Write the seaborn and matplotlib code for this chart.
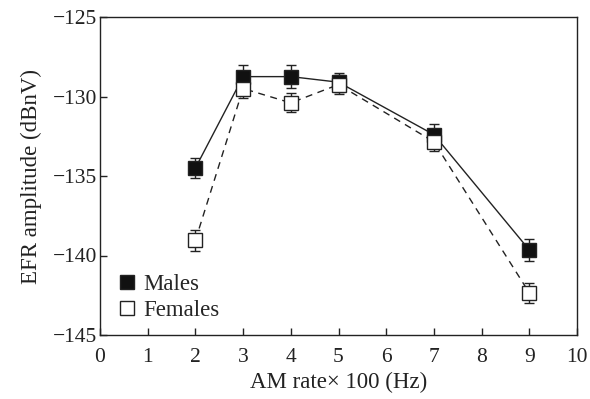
import matplotlib
matplotlib.use("Agg")
import matplotlib.pyplot as plt
from matplotlib.lines import Line2D
import seaborn as sns
import pandas as pd

am_rate = [2, 3, 4, 5, 7, 9]
males = [-134.5, -128.75, -128.75, -129.1, -132.4, -139.65]
males_err = [0.65, 0.75, 0.7, 0.6, 0.65, 0.7]
females = [-139.05, -129.5, -130.4, -129.25, -132.85, -142.35]
females_err = [0.65, 0.6, 0.6, 0.6, 0.6, 0.65]

df = pd.DataFrame({
    "rate": am_rate * 2,
    "amp": males + females,
    "group": ["Males"] * len(am_rate) + ["Females"] * len(am_rate),
})

sns.set_style("ticks")
plt.rcParams["font.family"] = ["Liberation Serif", "DejaVu Serif"]

fs = 15.5
lfs = 16.5
ink = "#222222"

fig = plt.figure(figsize=(5.9, 3.99), dpi=100)
ax = fig.add_axes([100 / 590, 1 - 335 / 399, 477 / 590, 318 / 399])

ax.errorbar(am_rate, males, yerr=males_err, fmt="none", ecolor=ink,
            elinewidth=1.0, capsize=3.5, capthick=1.0, zorder=2)
ax.errorbar(am_rate, females, yerr=females_err, fmt="none", ecolor=ink,
            elinewidth=1.0, capsize=3.5, capthick=1.0, zorder=2)

sns.lineplot(data=df[df.group == "Males"], x="rate", y="amp", ax=ax,
             color=ink, linewidth=1.0, marker="s", markersize=10,
             markerfacecolor="#111111", markeredgecolor=ink,
             markeredgewidth=1.0, zorder=3)
sns.lineplot(data=df[df.group == "Females"], x="rate", y="amp", ax=ax,
             color=ink, linewidth=1.0, linestyle=(0, (5, 4)),
             marker="s", markersize=10, markerfacecolor="white",
             markeredgecolor=ink, markeredgewidth=1.0, zorder=4)

ax.set_xlim(0, 10)
ax.set_ylim(-145, -125)
ax.set_xticks(range(0, 11))
ax.set_yticks([-145, -140, -135, -130, -125])
ax.set_yticklabels(["\u2212145", "\u2212140", "\u2212135", "\u2212130", "\u2212125"])
ax.tick_params(direction="in", length=5, width=1.0, labelsize=fs,
               colors=ink, top=False, right=False)
ax.tick_params(axis="x", pad=9)
ax.tick_params(axis="y", pad=2)
for s in ax.spines.values():
    s.set_linewidth(1.0)
    s.set_color(ink)

ax.set_xlabel("AM rate\u00d7 100 (Hz)", fontsize=lfs, color=ink, labelpad=4)
ax.set_ylabel("EFR amplitude (dBnV)", fontsize=lfs, color=ink, labelpad=8)

h = [Line2D([], [], linestyle="none", marker="s", markersize=10,
            markerfacecolor="#111111", markeredgecolor=ink),
     Line2D([], [], linestyle="none", marker="s", markersize=10,
            markerfacecolor="white", markeredgecolor=ink)]
ax.legend(h, ["Males", "Females"], loc="lower left", bbox_to_anchor=(0.04, 0.045),
          frameon=False, fontsize=lfs, handlelength=0.7, handletextpad=0.35,
          labelspacing=0.2, borderaxespad=0.0, borderpad=0.0)

fig.savefig("out.png", dpi=100)
